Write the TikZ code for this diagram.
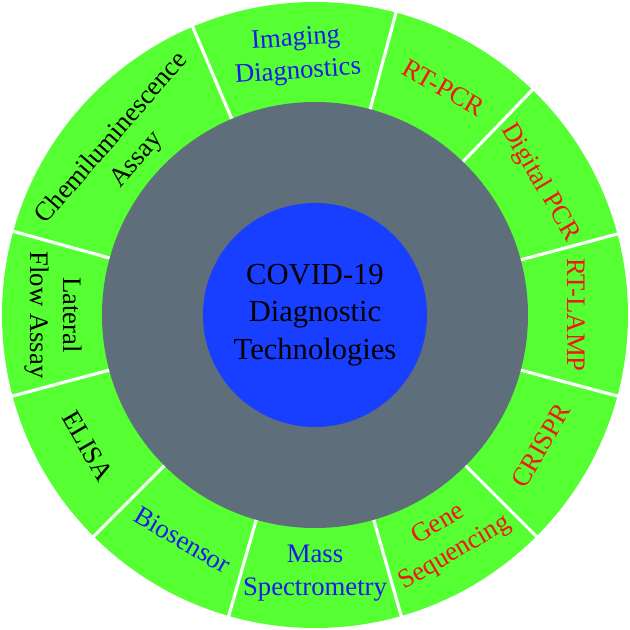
\documentclass[tikz,border=0pt]{standalone}
\usepackage{fontspec}
\setmainfont{Liberation Serif}
\usetikzlibrary{positioning}
\definecolor{ringgreen}{RGB}{85,255,50}
\definecolor{coregray}{RGB}{94,110,122}
\definecolor{coreblue}{RGB}{24,62,255}
\definecolor{labelblue}{RGB}{25,25,235}
\definecolor{labelred}{RGB}{245,20,20}
\tikzset{
  seglabel/.style={align=center, inner sep=0pt, font=\fontsize{15.2}{18.7}\selectfont},
  divider/.style={white, line width=1.8pt},
}

\begin{document}
\begin{tikzpicture}
			\useasboundingbox (-6.3,-6.3) rectangle (6.3,6.3);
			% Outer green ring
			\fill[ringgreen] (0,0) circle (6.26);
			
			% White lines between the segments
			\draw[divider] (113:4.1) -- (113:6.3);
			\draw[divider] (75:4.1) -- (75:6.3);
			\draw[divider] (46:4.1) -- (46:6.3);
			\draw[divider] (15:4.1) -- (15:6.3);
			\draw[divider] (-15:4.1) -- (-15:6.3);
			\draw[divider] (-45:4.1) -- (-45:6.3);
			\draw[divider] (-74:4.1) -- (-74:6.3);
			\draw[divider] (-106:4.1) -- (-106:6.3);
			\draw[divider] (-135:4.1) -- (-135:6.3);
			\draw[divider] (-165:4.1) -- (-165:6.3);
			\draw[divider] (164.5:4.1) -- (164.5:6.3);
			
			% Gray disk and blue centre
			\fill[coregray] (0,0) circle (4.26);
			\node[circle, fill=coreblue, minimum size=4.48cm, inner sep=0pt] (core) at (0,0) {};
			\node[align=center, font=\fontsize{17.4}{21.5}\selectfont] (title) at (core) {COVID-19\\Diagnostic\\Technologies};
			
			% Upper segments
			\node[seglabel, text=labelblue, rotate=4] (imaging) at (94:5.19) {Imaging\\Diagnostics};
			\node[seglabel, text=labelred, rotate=-29.5] (rtpcr) at (60.5:5.22) {RT-PCR};
			\node[seglabel, text=labelred, rotate=-59.5] (dpcr) at (30.5:5.22) {Digital PCR};
			\node[seglabel, text=labelred, rotate=-90] (lamp) at (0:5.22) {RT-LAMP};
			\node[seglabel, rotate=49] (chemi) at (139:5.05) {Chemiluminescence\\Assay};
			
			% Lower segments
			\node[seglabel, text=labelred, rotate=60] (crispr) at (-30:5.22) {CRISPR};
			\node[seglabel, text=labelred, rotate=30.5] (geneseq) at (-59.5:5.2) {Gene\\Sequencing};
			\node[seglabel, text=labelblue] (massspec) at (-90:5.17) {Mass\\Spectrometry};
			\node[seglabel, text=labelblue, rotate=-30.5] (biosensor) at (-120.5:5.22) {Biosensor};
			\node[seglabel, rotate=-60] (elisa) at (-150:5.25) {ELISA};
			\node[seglabel, rotate=-90] (lateral) at (180:5.23) {Lateral\\Flow Assay};
		\end{tikzpicture}
\end{document}
